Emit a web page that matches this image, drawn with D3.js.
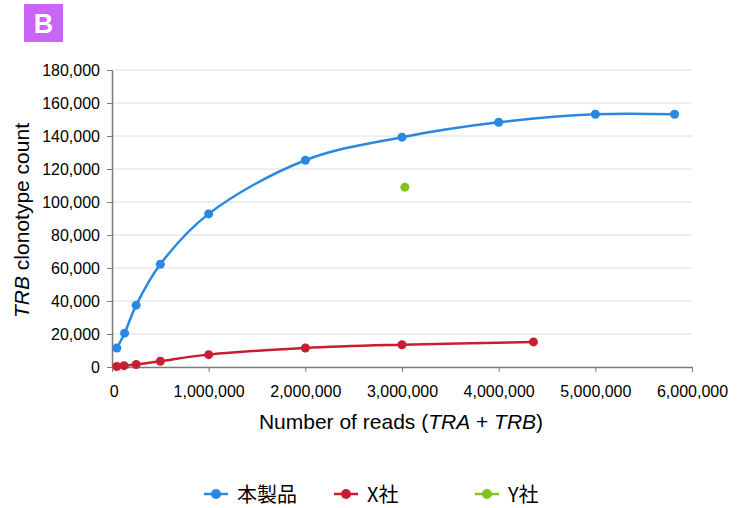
<!DOCTYPE html>
<html>
<head>
<meta charset="utf-8">
<script src="https://cdn.jsdelivr.net/npm/d3@7"></script>
<style>
  body { margin: 0; background: #fff; }
  svg { font-family: "Liberation Sans", Arial, sans-serif; }
</style>
</head>
<body>
<svg width="739" height="508"></svg>
<script>
// data
const seriesNames = ["本製品", "X社", "Y社"];
const productReads = [50000, 130000, 250000, 500000, 1000000, 2000000, 3000000, 4000000, 5000000, 5820000];
const productCounts = [11500, 20500, 37500, 62300, 92800, 125300, 139300, 148300, 153200, 153200];
const xReads = [50000, 125000, 250000, 500000, 1000000, 2000000, 3000000, 4360000];
const xCounts = [300, 800, 1500, 3500, 7500, 11500, 13500, 15200];
const yReads = [3030000];
const yCounts = [109000];
const xTicks = [0, 1000000, 2000000, 3000000, 4000000, 5000000, 6000000];
const yTicks = [0, 20000, 40000, 60000, 80000, 100000, 120000, 140000, 160000, 180000];

const colors = ["#2a88e0", "#c81e32", "#80c41c"];
const margin = { top: 70, right: 47, bottom: 141, left: 112 };
const width = 739, height = 508;

const svg = d3.select("svg");

const xScale = d3.scaleLinear()
    .domain([0, 6000000])
    .range([margin.left, width - margin.right]);

const yScale = d3.scaleLinear()
    .domain([0, 180000])
    .range([height - margin.bottom, margin.top]);

const fmt = d3.format(",");

// gridlines
svg.append("g")
    .selectAll("line")
    .data(yTicks.slice(1))
    .join("line")
    .attr("x1", margin.left)
    .attr("x2", width - margin.right)
    .attr("y1", d => yScale(d))
    .attr("y2", d => yScale(d))
    .attr("stroke", "#dedede")
    .attr("stroke-width", 1);

// axes
const xAxis = svg.append("g")
    .attr("transform", `translate(0, ${height - margin.bottom})`)
    .call(d3.axisBottom(xScale).tickValues(xTicks).tickFormat(fmt).tickSize(5).tickSizeOuter(0).tickPadding(14));

const yAxis = svg.append("g")
    .attr("transform", `translate(${margin.left}, 0)`)
    .call(d3.axisLeft(yScale).tickValues(yTicks).tickFormat(fmt).tickSize(5).tickSizeOuter(0).tickPadding(7));

[xAxis, yAxis].forEach(a => {
    a.select(".domain").attr("stroke", "#7a7a7a").attr("stroke-width", 1.5);
    a.selectAll(".tick line").attr("stroke", "#7a7a7a");
    a.selectAll(".tick text").attr("fill", "#000").style("font-size", "16px").attr("font-family", "Liberation Sans, Arial, sans-serif");
});
xAxis.selectAll(".tick text").filter(d => d === 0).attr("dx", "0.1em");

// series
const series = [
    { name: seriesNames[0], color: colors[0], pts: productReads.map((r, i) => [r, productCounts[i]]) },
    { name: seriesNames[1], color: colors[1], pts: xReads.map((r, i) => [r, xCounts[i]]) },
    { name: seriesNames[2], color: colors[2], pts: yReads.map((r, i) => [r, yCounts[i]]) }
];

// smoothed like the spreadsheet lines
const line = d3.line()
    .x(d => xScale(d[0]))
    .y(d => yScale(d[1]))
    .curve(d3.curveCatmullRom.alpha(0.5));

series.forEach(s => {
    if (s.pts.length > 1) {
        svg.append("path")
            .datum(s.pts)
            .attr("fill", "none")
            .attr("stroke", s.color)
            .attr("stroke-width", 2.5)
            .attr("d", line);
    }
    svg.append("g")
        .selectAll("circle")
        .data(s.pts)
        .join("circle")
        .attr("cx", d => xScale(d[0]))
        .attr("cy", d => yScale(d[1]))
        .attr("r", 4.5)
        .attr("fill", s.color);
});

// axis titles
const yt = svg.append("text")
    .attr("transform", `translate(29, ${(margin.top + height - margin.bottom) / 2 + 2}) rotate(-90)`)
    .attr("text-anchor", "middle")
    .style("font-size", "21px");
yt.append("tspan").attr("font-style", "italic").text("TRB");
yt.append("tspan").text(" clonotype count");

const xt = svg.append("text")
    .attr("x", 401)
    .attr("y", 429)
    .attr("text-anchor", "middle")
    .style("font-size", "21px");
xt.append("tspan").text("Number of reads (");
xt.append("tspan").attr("font-style", "italic").text("TRA");
xt.append("tspan").text(" + ");
xt.append("tspan").attr("font-style", "italic").text("TRB");
xt.append("tspan").text(")");

// legend
const legendX = [204, 334, 475];
const legendY = 494;
series.forEach((s, i) => {
    const g = svg.append("g").attr("transform", `translate(${legendX[i]}, ${legendY})`);
    g.append("line").attr("x1", 0).attr("x2", 24).attr("stroke", s.color).attr("stroke-width", 2.5);
    g.append("circle").attr("cx", 12).attr("r", 5).attr("fill", s.color);
    g.append("text")
        .attr("x", 33)
        .attr("y", 8)
        .style("font-size", "20px")
        .attr("font-family", "'Noto Sans CJK JP', sans-serif")
        .text(s.name);
});

// panel badge
svg.append("rect").attr("x", 24).attr("y", 4).attr("width", 39).attr("height", 38).attr("fill", "#c965f7");
svg.append("text")
    .attr("x", 43.5)
    .attr("y", 33)
    .attr("text-anchor", "middle")
    .attr("fill", "#fff")
    .attr("font-weight", "bold")
    .style("font-size", "27px")
    .text("B");
</script>
</body>
</html>
